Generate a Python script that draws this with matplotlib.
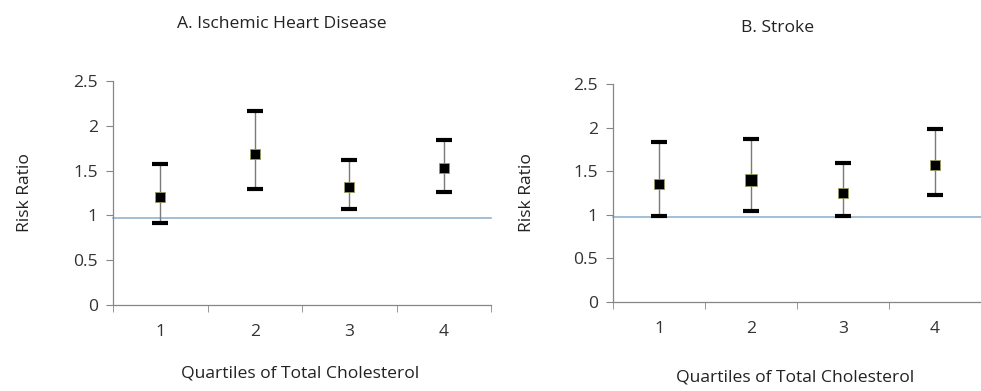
import matplotlib
matplotlib.use("Agg")
import matplotlib.pyplot as plt

plt.rcParams['font.family'] = ['Open Sans', 'DejaVu Sans']

quartiles = [1, 2, 3, 4]
tick_labels = ["1", "2", "3", "4"]

ihd_rr = [1.21, 1.68, 1.32, 1.525]
ihd_lo = [0.92, 1.295, 1.075, 1.265]
ihd_hi = [1.577, 2.165, 1.62, 1.84]

stroke_rr = [1.348, 1.398, 1.252, 1.567]
stroke_lo = [0.988, 1.038, 0.988, 1.225]
stroke_hi = [1.838, 1.869, 1.596, 1.987]
stroke_marker_sizes = [6.5, 9.0, 6.5, 6.5]

ref_line = 0.975

W, H = 981, 391
FS = 12.6
fig = plt.figure(figsize=(W / 100, H / 100), dpi=100)


def px_axes(x0, y0, x1, y1):
    return fig.add_axes([x0 / W, 1 - y1 / H, (x1 - x0) / W, (y1 - y0) / H])


def style(ax):
    ax.set_xlim(0.5, 4.5)
    ax.set_ylim(0, 2.5)
    ax.set_yticks([0, 0.5, 1, 1.5, 2, 2.5])
    ax.set_yticklabels(["0", "0.5", "1", "1.5", "2", "2.5"])
    ax.set_xticks(quartiles)
    ax.set_xticklabels(tick_labels)
    ax.set_xticks([0.5, 1.5, 2.5, 3.5, 4.5], minor=True)
    ax.tick_params(axis='x', which='major', length=0, pad=14, labelsize=FS, colors='#333333')
    ax.tick_params(axis='x', which='minor', length=5, color='#868686', direction='out')
    ax.tick_params(axis='y', length=5, color='#868686', labelsize=FS, labelcolor='#333333', pad=6)
    for s in ['top', 'right']:
        ax.spines[s].set_visible(False)
    for s in ['left', 'bottom']:
        ax.spines[s].set_color('#868686')
        ax.spines[s].set_linewidth(0.9)
    ax.axhline(ref_line, color='#8aaccb', lw=1.1, zorder=1)


def draw(ax, rr, lo, hi, msizes):
    for x, r, l, h, ms in zip(quartiles, rr, lo, hi, msizes):
        _, caps, _ = ax.errorbar([x], [r], yerr=[[r - l], [h - r]], fmt='s', color='black',
                                 ecolor='#7a7a7a', elinewidth=1.0, capsize=6, capthick=3.0,
                                 markersize=ms, markerfacecolor='black', markeredgecolor='#9a9a60',
                                 markeredgewidth=0.6, zorder=3)
        for c in caps:
            c.set_color('black')
            c.set_markeredgecolor('black')
            c.set_markeredgewidth(3.0)


ax1 = px_axes(113, 81, 491, 305)
style(ax1)
draw(ax1, ihd_rr, ihd_lo, ihd_hi, [6.5] * 4)

ax2 = px_axes(613, 84, 981, 301.7)
style(ax2)
draw(ax2, stroke_rr, stroke_lo, stroke_hi, stroke_marker_sizes)

for ax in (ax1, ax2):
    for artist in ax.get_children():
        try:
            artist.set_clip_on(False)
        except Exception:
            pass

txt = dict(color='#222222', fontsize=FS)
fig.text(282 / W, 1 - 24 / H, "A. Ischemic Heart Disease", ha='center', va='center', **txt)
fig.text(778 / W, 1 - 28 / H, "B. Stroke", ha='center', va='center', **txt)
fig.text(300 / W, 1 - 373 / H, "Quartiles of Total Cholesterol", ha='center', va='center', **txt)
fig.text(795 / W, 1 - 378 / H, "Quartiles of Total Cholesterol", ha='center', va='center', **txt)
fig.text(25 / W, 1 - 193 / H, "Risk Ratio", ha='center', va='center', rotation=90, **txt)
fig.text(527 / W, 1 - 193 / H, "Risk Ratio", ha='center', va='center', rotation=90, **txt)

fig.savefig("out.png", dpi=100)
